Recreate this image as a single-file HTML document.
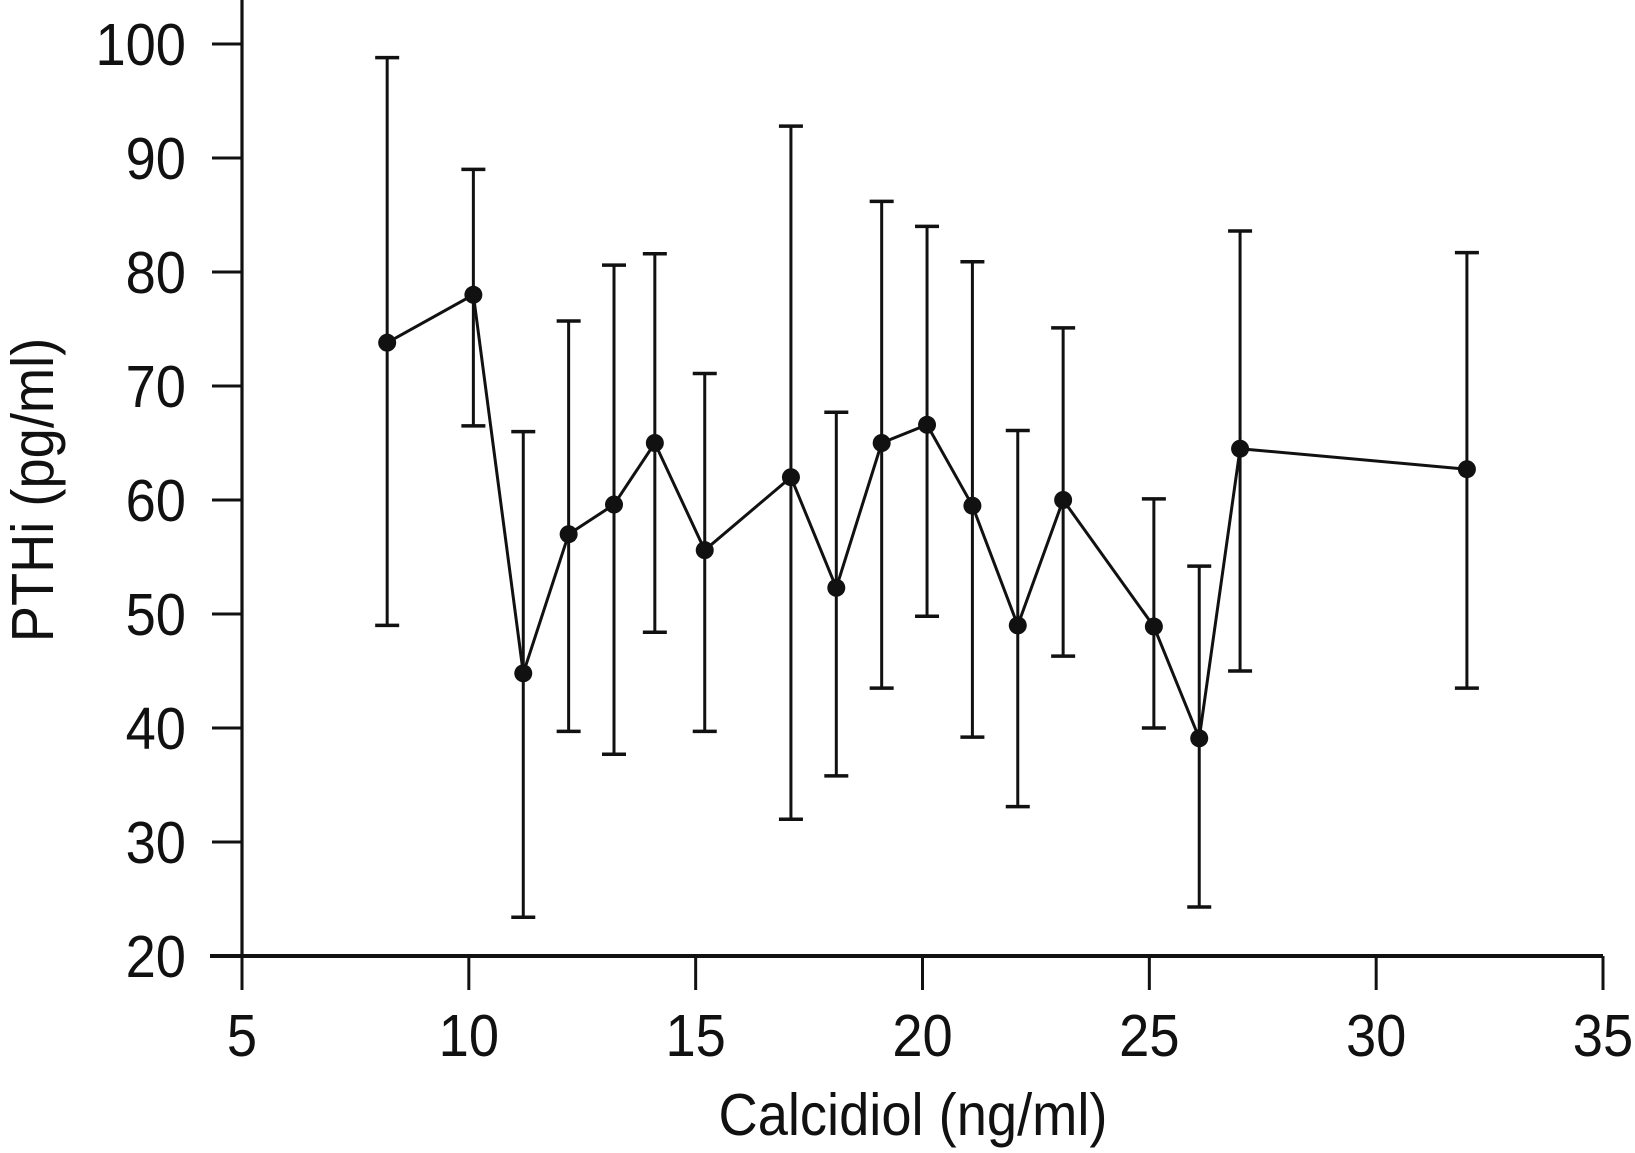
<!DOCTYPE html>
<html><head><meta charset="utf-8"><style>
html,body{margin:0;padding:0;background:#fff;}
svg{display:block;}
text{font-family:"Liberation Sans",sans-serif;fill:#111;}
</style></head><body>
<svg id="chart" width="1635" height="1153" viewBox="0 0 1635 1153">
<g id="axes"></g><g id="marks"></g>
</svg>
<script>
const xVals=[8.2,10.1,11.2,12.2,13.2,14.1,15.2,17.1,18.1,19.1,20.1,21.1,22.1,23.1,25.1,26.1,27.0,32.0];
const yMean=[73.8,78,44.8,57,59.6,65,55.6,62,52.3,65,66.6,59.5,49,60,48.9,39.1,64.5,62.7];
const yLow=[49,66.5,23.4,39.7,37.7,48.4,39.7,32,35.8,43.5,49.8,39.2,33.1,46.3,40,24.3,45,43.5];
const yHigh=[98.8,89,66,75.7,80.6,81.6,71.1,92.8,67.7,86.2,84,80.9,66.1,75.1,60.1,54.2,83.6,81.7];
const xTicks=[5,10,15,20,25,30,35];
const yTicks=[20,30,40,50,60,70,80,90,100];
const NS="http://www.w3.org/2000/svg";
const X=v=>242+(v-5)*(1603-242)/30;
const Y=v=>956-(v-20)*(956-44)/80;
function mk(p,t,a){const e=document.createElementNS(NS,t);for(const k in a)e.setAttribute(k,a[k]);p.appendChild(e);return e;}
const ax=document.getElementById('axes'),mg=document.getElementById('marks');
let l=mk(ax,'line',{x1:242,y1:0,x2:242,y2:956,stroke:'#111','stroke-width':3.2});


l=mk(ax,'line',{x1:210,y1:956,x2:1603,y2:956,stroke:'#111','stroke-width':4});


xTicks.forEach(t=>{
 const tk=mk(ax,'line',{x1:X(t),y1:956,x2:X(t),y2:990,stroke:'#111','stroke-width':3});
 
 
 const tx=mk(ax,'text',{x:X(t),y:1056,'font-size':59,'text-anchor':'middle',transform:`translate(${X(t)},0) scale(0.92,1) translate(${-X(t)},0)`});
 tx.textContent=t;
 
 
});
yTicks.forEach(t=>{
 const tk=mk(ax,'line',{x1:212,y1:Y(t),x2:242,y2:Y(t),stroke:'#111','stroke-width':3});
 
 
 const tx=mk(ax,'text',{x:186,y:Y(t)+21,'font-size':59,'text-anchor':'end',transform:`translate(186,0) scale(0.92,1) translate(-186,0)`});
 tx.textContent=t;
 
 
});
let t=mk(ax,'text',{x:913,y:1135,'font-size':59,'text-anchor':'middle',transform:'translate(913,0) scale(0.92,1) translate(-913,0)'});
t.textContent='Calcidiol (ng/ml)';


t=mk(ax,'text',{x:0,y:0,'font-size':59,'text-anchor':'middle',transform:'translate(53,490) rotate(-90) scale(0.92,1)'});
t.textContent='PTHi (pg/ml)';


xVals.forEach((x,i)=>{
 const g=mk(mg,'g',{stroke:'#111','stroke-width':3});
 
 
 mk(g,'line',{x1:X(x),y1:Y(yLow[i]),x2:X(x),y2:Y(yHigh[i])});
 mk(g,'line',{x1:X(x)-12,y1:Y(yLow[i]),x2:X(x)+12,y2:Y(yLow[i]),'stroke-width':3.5});
 mk(g,'line',{x1:X(x)-12,y1:Y(yHigh[i]),x2:X(x)+12,y2:Y(yHigh[i]),'stroke-width':3.5});
});
const pl=mk(mg,'polyline',{points:xVals.map((x,i)=>X(x)+','+Y(yMean[i])).join(' '),fill:'none',stroke:'#111','stroke-width':3});


xVals.forEach((x,i)=>{
 const c=mk(mg,'circle',{cx:X(x),cy:Y(yMean[i]),r:9,fill:'#111'});
 
 
});
</script>
</body></html>
